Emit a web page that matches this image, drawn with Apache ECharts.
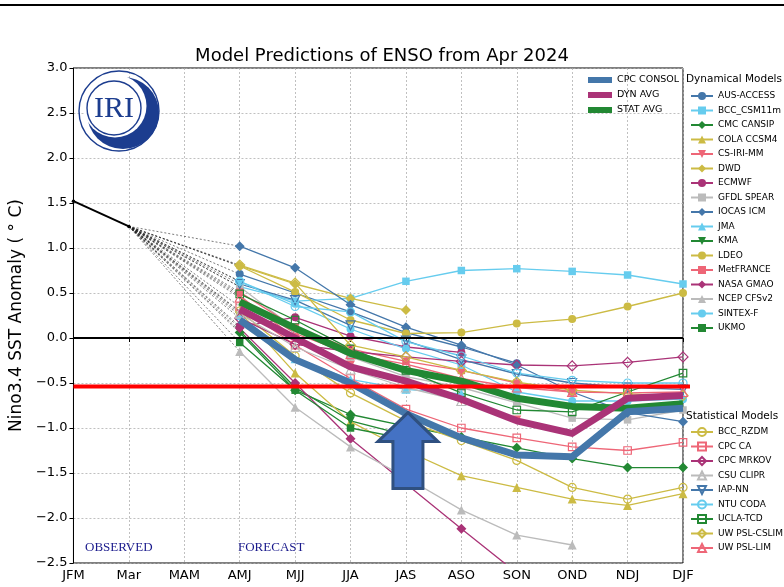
<!DOCTYPE html>
<html>
<head>
<meta charset="utf-8">
<script src="https://cdn.jsdelivr.net/npm/echarts@6/dist/echarts.min.js"></script>
<style>
  html, body { margin: 0; padding: 0; background: #fff; }
  #chart { width: 784px; height: 587px; }
</style>
</head>
<body>
<div id="chart"></div>
<script>
// ---- Seasons on the x axis (first two observed, then forecast seasons from AMJ) ----
const seasons = ['JFM', 'Mar', 'MAM', 'AMJ', 'MJJ', 'JJA', 'JAS', 'ASO', 'SON', 'OND', 'NDJ', 'DJF'];
const yTicks = [-2.5, -2.0, -1.5, -1.0, -0.5, 0.0, 0.5, 1.0, 1.5, 2.0, 2.5, 3.0];

// Observed Nino3.4 anomaly (JFM, Mar)
const observed = [1.52, 1.24];

// Threshold marked in red
const redLineLevel = -0.54;

// ---- Dynamical models: values for AMJ, MJJ, JJA, ... DJF ----
const AUS_ACCESS  = [0.71, 0.50, 0.29, 0.06, -0.10, -0.28];
const BCC_CSM11m  = [0.57, 0.41, 0.44, 0.63, 0.75, 0.77, 0.74, 0.70, 0.60];
const CMC_CANSIP  = [0.06, -0.58, -0.85, -0.98, -1.10, -1.22, -1.34, -1.44, -1.44];
const COLA_CCSM4  = [0.29, -0.39, -0.93, -1.25, -1.53, -1.66, -1.79, -1.86, -1.73];
const CS_IRI_MM   = [0.47, 0.00, -0.30, -0.50, -0.69, -0.91];
const DWD         = [0.80, 0.60, 0.44, 0.31];
const ECMWF       = [0.13, 0.23, 0.02, -0.10, -0.16];
const GFDL_SPEAR  = [0.57, 0.10, -0.21, -0.43, -0.55, -0.72, -0.89, -0.91, -0.80];
const IOCAS_ICM   = [1.02, 0.78, 0.37, 0.12, -0.08, -0.30, -0.60, -0.83, -0.93];
const JMA         = [0.25, -0.23, -0.46, -0.57, -0.62];
const KMA         = [0.08, -0.55, -0.92, -1.08];
const LDEO        = [0.80, 0.51, 0.20, 0.05, 0.06, 0.16, 0.21, 0.35, 0.50];
const MetFRANCE   = [0.51, 0.12, -0.12, -0.26, -0.36, -0.50, -0.60];
const NASA_GMAO   = [0.11, -0.50, -1.12, -1.62, -2.12, -2.61];
const NCEP_CFSv2  = [-0.15, -0.77, -1.21, -1.55, -1.91, -2.19, -2.30];
const SINTEX_F    = [0.63, 0.38, 0.10, -0.12, -0.30, -0.60, -0.70, -0.70, -0.68];
const UKMO        = [-0.05, -0.58, -1.00, -1.12];

// ---- Statistical models ----
const BCC_RZDM     = [0.30, -0.20, -0.61, -0.92, -1.14, -1.36, -1.66, -1.79, -1.66];
const CPC_CA       = [0.35, -0.08, -0.45, -0.79, -1.00, -1.11, -1.21, -1.25, -1.16];
const CPC_MRKOV    = [0.22, -0.07, -0.15, -0.21, -0.26, -0.30, -0.31, -0.27, -0.21];
const CSU_CLIPR    = [0.27, -0.10, -0.35, -0.55, -0.70];
const IAP_NN       = [0.60, 0.42, 0.14, -0.03, -0.24, -0.40, -0.50, -0.55, -0.57];
const NTU_CODA     = [0.63, 0.35, 0.29, -0.04, -0.20, -0.39, -0.47, -0.50, -0.50];
const UCLA_TCD     = [0.49, 0.20, -0.12, -0.36, -0.61, -0.80, -0.82, -0.60, -0.39];
const UW_PSL_CSLIM = [0.81, 0.61, -0.08, -0.21, -0.36, -0.49, -0.58, -0.62, -0.64];
const UW_PSL_LIM   = [0.45, 0.05, -0.18, -0.29, -0.45, -0.55, -0.60, -0.61, -0.60];

// ---- Consensus and averages ----
const CPC_CONSOL = [0.20, -0.24, -0.50, -0.84, -1.11, -1.30, -1.32, -0.82, -0.78];
const DYN_AVG    = [0.32, 0.00, -0.32, -0.48, -0.68, -0.92, -1.06, -0.67, -0.64];
const STAT_AVG   = [0.40, 0.11, -0.17, -0.36, -0.48, -0.67, -0.76, -0.78, -0.73];

// ---- Palette and marker styles ----
const C = { blue: '#4477AA', cyan: '#66CCEE', green: '#228833', yellow: '#CCBB44',
            red: '#EE6677', purple: '#AA3377', grey: '#BBBBBB' };

const dynModels = [
  ['AUS-ACCESS', AUS_ACCESS, C.blue, 'circle', 0],
  ['BCC_CSM11m', BCC_CSM11m, C.cyan, 'rect', 0],
  ['CMC CANSIP', CMC_CANSIP, C.green, 'diamond', 0],
  ['COLA CCSM4', COLA_CCSM4, C.yellow, 'triangle', 0],
  ['CS-IRI-MM', CS_IRI_MM, C.red, 'triangle', 180],
  ['DWD', DWD, C.yellow, 'diamond', 0],
  ['ECMWF', ECMWF, C.purple, 'circle', 0],
  ['GFDL SPEAR', GFDL_SPEAR, C.grey, 'rect', 0],
  ['IOCAS ICM', IOCAS_ICM, C.blue, 'diamond', 0],
  ['JMA', JMA, C.cyan, 'triangle', 0],
  ['KMA', KMA, C.green, 'triangle', 180],
  ['LDEO', LDEO, C.yellow, 'circle', 0],
  ['MetFRANCE', MetFRANCE, C.red, 'rect', 0],
  ['NASA GMAO', NASA_GMAO, C.purple, 'diamond', 0],
  ['NCEP CFSv2', NCEP_CFSv2, C.grey, 'triangle', 0],
  ['SINTEX-F', SINTEX_F, C.cyan, 'circle', 0],
  ['UKMO', UKMO, C.green, 'rect', 0]
];

const statModels = [
  ['BCC_RZDM', BCC_RZDM, C.yellow, 'circle', 0],
  ['CPC CA', CPC_CA, C.red, 'rect', 0],
  ['CPC MRKOV', CPC_MRKOV, C.purple, 'diamond', 0],
  ['CSU CLIPR', CSU_CLIPR, C.grey, 'triangle', 0],
  ['IAP-NN', IAP_NN, C.blue, 'triangle', 180],
  ['NTU CODA', NTU_CODA, C.cyan, 'circle', 0],
  ['UCLA-TCD', UCLA_TCD, C.green, 'rect', 0],
  ['UW PSL-CSLIM', UW_PSL_CSLIM, C.yellow, 'diamond', 0],
  ['UW PSL-LIM', UW_PSL_LIM, C.red, 'triangle', 0]
];

const averages = [
  ['CPC CONSOL', CPC_CONSOL, C.blue, 7],
  ['DYN AVG', DYN_AVG, C.purple, 7],
  ['STAT AVG', STAT_AVG, C.green, 7]
];

const FIRST_FORECAST = seasons.indexOf('AMJ');
const FONT = 'DejaVu Sans';

// place forecast values on the full season axis
function onAxis(vals) {
  const out = seasons.map(() => null);
  vals.forEach((v, i) => { out[FIRST_FORECAST + i] = v; });
  return out;
}

function symbolSizeFor(sym) {
  if (sym === 'diamond') return 10;
  if (sym === 'triangle') return 9;
  if (sym === 'rect') return 7.5;
  return 8;
}

const series = [];

// observed segment
series.push({
  type: 'line', data: observed.map((v, i) => [i, v]),
  symbol: 'circle', symbolSize: 3.5, showSymbol: true,
  lineStyle: { color: '#000', width: 2 }, itemStyle: { color: '#000' },
  z: 4, silent: true
});

// dotted connectors from the last observation to each model's first season
[...dynModels, ...statModels].forEach(m => {
  series.push({
    type: 'line', data: [[1, observed[1]], [FIRST_FORECAST, m[1][0]]],
    symbol: 'none', lineStyle: { color: '#222', width: 0.8, type: [2, 2], opacity: 0.75 },
    z: 1, silent: true
  });
});

function modelSeries(m, open) {
  const [name, vals, color, sym, rot] = m;
  return {
    name, type: 'line', data: onAxis(vals),
    symbol: sym, symbolRotate: rot, symbolSize: symbolSizeFor(sym), showSymbol: true,
    lineStyle: { color, width: 1.3 },
    itemStyle: open
      ? { color: 'rgba(255,255,255,0)', borderColor: color, borderWidth: 1.2 }
      : { color, borderColor: color, borderWidth: 0 },
    z: 3, silent: true
  };
}
dynModels.forEach(m => series.push(modelSeries(m, false)));
statModels.forEach(m => series.push(modelSeries(m, true)));

averages.forEach((a, k) => {
  series.push({
    name: a[0], type: 'line', data: onAxis(a[1]), symbol: 'none',
    lineStyle: { color: a[2], width: a[3], join: 'round' }, itemStyle: { color: a[2] },
    z: 6 - k, silent: true
  });
});

const chart = echarts.init(document.getElementById('chart'), null, { renderer: 'canvas' });

const legendText = { fontFamily: FONT, fontSize: 9, color: '#000', lineHeight: 12 };

chart.setOption({
  animation: false,
  backgroundColor: '#fff',
  title: {
    text: 'Model Predictions of ENSO from Apr 2024',
    left: 377, top: 42, textAlign: 'center',
    textStyle: { fontFamily: FONT, fontSize: 18, fontWeight: 'normal', color: '#000' }
  },
  grid: { left: 70, right: 101, top: 68, bottom: 24, show: true, borderColor: '#000', borderWidth: 1, backgroundColor: 'transparent' },
  xAxis: {
    type: 'category', data: seasons, boundaryGap: false,
    axisLine: { lineStyle: { color: '#000', width: 1 } },
    axisTick: { show: true, length: 4, alignWithLabel: true, lineStyle: { color: '#000' } },
    axisLabel: { fontFamily: FONT, fontSize: 13, color: '#000', margin: 6, interval: 0 },
    splitLine: { show: true, interval: 0, lineStyle: { color: '#b0b0b0', width: 0.8, type: [2, 2] } }
  },
  yAxis: {
    type: 'value', min: yTicks[0], max: yTicks[yTicks.length - 1], interval: 0.5,
    name: 'Nino3.4 SST Anomaly ( \u00b0 C)', nameLocation: 'middle', nameGap: 44, nameRotate: 90,
    nameTextStyle: { fontFamily: FONT, fontSize: 17, color: '#000' },
    axisLine: { show: true, lineStyle: { color: '#000', width: 1 } },
    axisTick: { show: true, length: 4, lineStyle: { color: '#000' } },
    axisLabel: {
      fontFamily: FONT, fontSize: 13, color: '#000', margin: 6,
      formatter: v => (v < 0 ? '\u2212' : '') + Math.abs(v).toFixed(1)
    },
    splitLine: { show: true, lineStyle: { color: '#b0b0b0', width: 0.8, type: [2, 2] } }
  },
  legend: [
    {
      data: averages.map(a => a[0]), orient: 'vertical', left: 583, top: 69,
      icon: 'rect', itemWidth: 24, itemHeight: 6, itemGap: 3, selectedMode: false,
      textStyle: Object.assign({}, legendText, { fontSize: 9.5 })
    },
    {
      data: dynModels.map(m => m[0]), orient: 'vertical', left: 685, top: 85,
      itemWidth: 22, itemHeight: 10, itemGap: 2.5, selectedMode: false, textStyle: legendText
    },
    {
      data: statModels.map(m => m[0]), orient: 'vertical', left: 685, top: 421,
      itemWidth: 22, itemHeight: 10, itemGap: 2.5, selectedMode: false, textStyle: legendText
    }
  ],
  series
});

// ---- Reference lines, arrow, labels and logo placed through the axis scales ----
const px = (x, y) => chart.convertToPixel({ gridIndex: 0 }, [x, y]);
const leftX = px(0, 0)[0];
const rightX = px(seasons.length - 1, 0)[0];
const zeroY = px(0, 0)[1];
const redY = px(0, redLineLevel)[1];
const tip = px(seasons.indexOf('JAS'), CPC_CONSOL[seasons.indexOf('JAS') - FIRST_FORECAST]);
const tx = tip[0] + 2, ty = tip[1] - 1;

const navy = '#1c3d8f';

chart.setOption({
  graphic: [
    { type: 'line', shape: { x1: 0, y1: 5, x2: 784, y2: 5 }, style: { stroke: '#000', lineWidth: 2 }, z: 10 },
    { type: 'line', shape: { x1: leftX, y1: zeroY, x2: rightX, y2: zeroY }, style: { stroke: '#000', lineWidth: 2 }, z: 10 },
    { type: 'line', shape: { x1: leftX, y1: redY, x2: rightX + 7, y2: redY }, style: { stroke: '#ff0000', lineWidth: 4 }, z: 11 },
    {
      type: 'polygon', z: 12,
      shape: { points: [
        [tx, ty], [tx + 30, ty + 29], [tx + 15, ty + 29], [tx + 15, ty + 76],
        [tx - 15, ty + 76], [tx - 15, ty + 29], [tx - 30, ty + 29]
      ] },
      style: { fill: '#4472C4', stroke: '#2F5080', lineWidth: 3, lineJoin: 'miter' }
    },
    { type: 'text', left: 686, top: 74, style: { text: 'Dynamical Models', font: '10.5px "DejaVu Sans"', fill: '#000' }, z: 10 },
    { type: 'text', left: 686, top: 411, style: { text: 'Statistical Models', font: '10.5px "DejaVu Sans"', fill: '#000' }, z: 10 },
    { type: 'text', left: 85, top: 541, style: { text: 'OBSERVED', font: '13px "Liberation Serif"', fill: '#1a1a8c' }, z: 10 },
    { type: 'text', left: 238, top: 541, style: { text: 'FORECAST', font: '13px "Liberation Serif"', fill: '#1a1a8c' }, z: 10 },
    {
      type: 'group', z: 10,
      children: [
        { type: 'circle', shape: { cx: 119, cy: 111, r: 40 }, style: { fill: 'none', stroke: navy, lineWidth: 1.4 } },
        { type: 'circle', shape: { cx: 123, cy: 113, r: 36 }, style: { fill: navy } },
        { type: 'circle', shape: { cx: 115, cy: 106, r: 31.5 }, style: { fill: '#fff' } },
        { type: 'circle', shape: { cx: 114, cy: 108, r: 27 }, style: { fill: 'none', stroke: navy, lineWidth: 1.4 } },
        { type: 'text', style: { x: 114, y: 109, text: 'IRI', font: '30px "Liberation Serif"', fill: navy, align: 'center', verticalAlign: 'middle' } }
      ]
    }
  ]
});
</script>
</body>
</html>
